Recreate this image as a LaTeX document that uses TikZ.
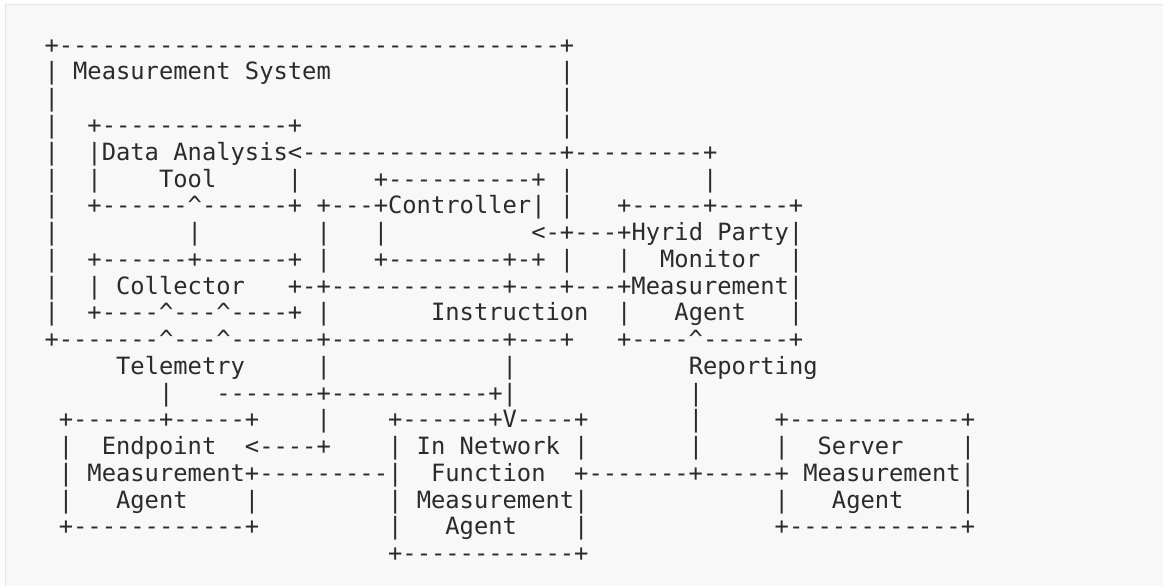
\documentclass[tikz,border=0pt]{standalone}
\usepackage{fontspec}
\setmonofont{DejaVu Sans Mono}
\ExplSyntaxOn
\cs_new:Npn \Rep #1#2 { \prg_replicate:nn {#1} {#2} }
\ExplSyntaxOff
\newdimen\cw
\newcommand\Sp[1]{\kern#1\cw}
\newcommand\C{\char"5E\relax}
\newcommand\asciifont{\ttfamily\fontsize{23.78pt}{26.75pt}\selectfont}
\definecolor{bgc}{HTML}{F8F8F8}
\definecolor{bordc}{HTML}{E6E6E6}
\definecolor{ink}{HTML}{2B2B2B}
\tikzset{
  ln/.style={anchor=base west, inner sep=0pt, outer sep=0pt, font=\asciifont, text=ink}
}
\begin{document}
\settowidth{\cw}{\asciifont -}%
\begin{tikzpicture}[x=1pt,y=-1pt]
\useasboundingbox (0,0) rectangle (1163,586);
\fill[white] (0,0) rectangle (1163,586);
\fill[bgc] (5,5) rectangle (1163,586);
\draw[bordc, line width=1pt] (5,586) -- (5,5) -- (1163,5);
\def\xo{44.54}
\def\ya{53.25}
\def\dy{26.75}
\node[ln] (r1)  at (\xo,{\ya+0*\dy})  {+\Rep{35}{-}+};
\node[ln] (r2)  at (\xo,{\ya+1*\dy})  {|\Sp{1}Measurement\Sp{1}System\Sp{16}|};
\node[ln] (r3)  at (\xo,{\ya+2*\dy})  {|\Sp{35}|};
\node[ln] (r4)  at (\xo,{\ya+3*\dy})  {|\Sp{2}+\Rep{13}{-}+\Sp{18}|};
\node[ln] (r5)  at (\xo,{\ya+4*\dy})  {|\Sp{2}|Data\Sp{1}Analysis<\Rep{18}{-}+\Rep{9}{-}+};
\node[ln] (r6)  at (\xo,{\ya+5*\dy})  {|\Sp{2}|\Sp{4}Tool\Sp{5}|\Sp{5}+\Rep{10}{-}+\Sp{1}|\Sp{9}|};
\node[ln] (r7)  at (\xo,{\ya+6*\dy})  {|\Sp{2}+\Rep{6}{-}\C\Rep{6}{-}+\Sp{1}+\Rep{3}{-}+Controller|\Sp{1}|\Sp{3}+\Rep{5}{-}+\Rep{5}{-}+};
\node[ln] (r8)  at (\xo,{\ya+7*\dy})  {|\Sp{9}|\Sp{8}|\Sp{3}|\Sp{10}<-+\Rep{3}{-}+Hyrid\Sp{1}Party|};
\node[ln] (r9)  at (\xo,{\ya+8*\dy})  {|\Sp{2}+\Rep{6}{-}+\Rep{6}{-}+\Sp{1}|\Sp{3}+\Rep{8}{-}+-+\Sp{1}|\Sp{3}|\Sp{2}Monitor\Sp{2}|};
\node[ln] (r10) at (\xo,{\ya+9*\dy})  {|\Sp{2}|\Sp{1}Collector\Sp{3}+-+\Rep{12}{-}+\Rep{3}{-}+\Rep{3}{-}+Measurement|};
\node[ln] (r11) at (\xo,{\ya+10*\dy}) {|\Sp{2}+\Rep{4}{-}\C\Rep{3}{-}\C\Rep{4}{-}+\Sp{1}|\Sp{7}Instruction\Sp{2}|\Sp{3}Agent\Sp{3}|};
\node[ln] (r12) at (\xo,{\ya+11*\dy}) {+\Rep{7}{-}\C\Rep{3}{-}\C\Rep{6}{-}+\Rep{12}{-}+\Rep{3}{-}+\Sp{3}+\Rep{4}{-}\C\Rep{6}{-}+};
\node[ln] (r13) at (\xo,{\ya+12*\dy}) {\Sp{5}Telemetry\Sp{5}|\Sp{12}|\Sp{12}Reporting};
\node[ln] (r14) at (\xo,{\ya+13*\dy}) {\Sp{8}|\Sp{3}\Rep{7}{-}+\Rep{11}{-}+|\Sp{12}|};
\node[ln] (r15) at (\xo,{\ya+14*\dy}) {\Sp{1}+\Rep{6}{-}+\Rep{5}{-}+\Sp{4}|\Sp{4}+\Rep{6}{-}+V\Rep{4}{-}+\Sp{7}|\Sp{5}+\Rep{12}{-}+};
\node[ln] (r16) at (\xo,{\ya+15*\dy}) {\Sp{1}|\Sp{2}Endpoint\Sp{2}<\Rep{4}{-}+\Sp{4}|\Sp{1}In\Sp{1}Network\Sp{1}|\Sp{7}|\Sp{5}|\Sp{2}Server\Sp{4}|};
\node[ln] (r17) at (\xo,{\ya+16*\dy}) {\Sp{1}|\Sp{1}Measurement+\Rep{9}{-}|\Sp{2}Function\Sp{2}+\Rep{7}{-}+\Rep{5}{-}+\Sp{1}Measurement|};
\node[ln] (r18) at (\xo,{\ya+17*\dy}) {\Sp{1}|\Sp{3}Agent\Sp{4}|\Sp{9}|\Sp{1}Measurement|\Sp{13}|\Sp{3}Agent\Sp{4}|};
\node[ln] (r19) at (\xo,{\ya+18*\dy}) {\Sp{1}+\Rep{12}{-}+\Sp{9}|\Sp{3}Agent\Sp{4}|\Sp{13}+\Rep{12}{-}+};
\node[ln] (r20) at (\xo,{\ya+19*\dy}) {\Sp{24}+\Rep{12}{-}+};
\end{tikzpicture}
\end{document}
